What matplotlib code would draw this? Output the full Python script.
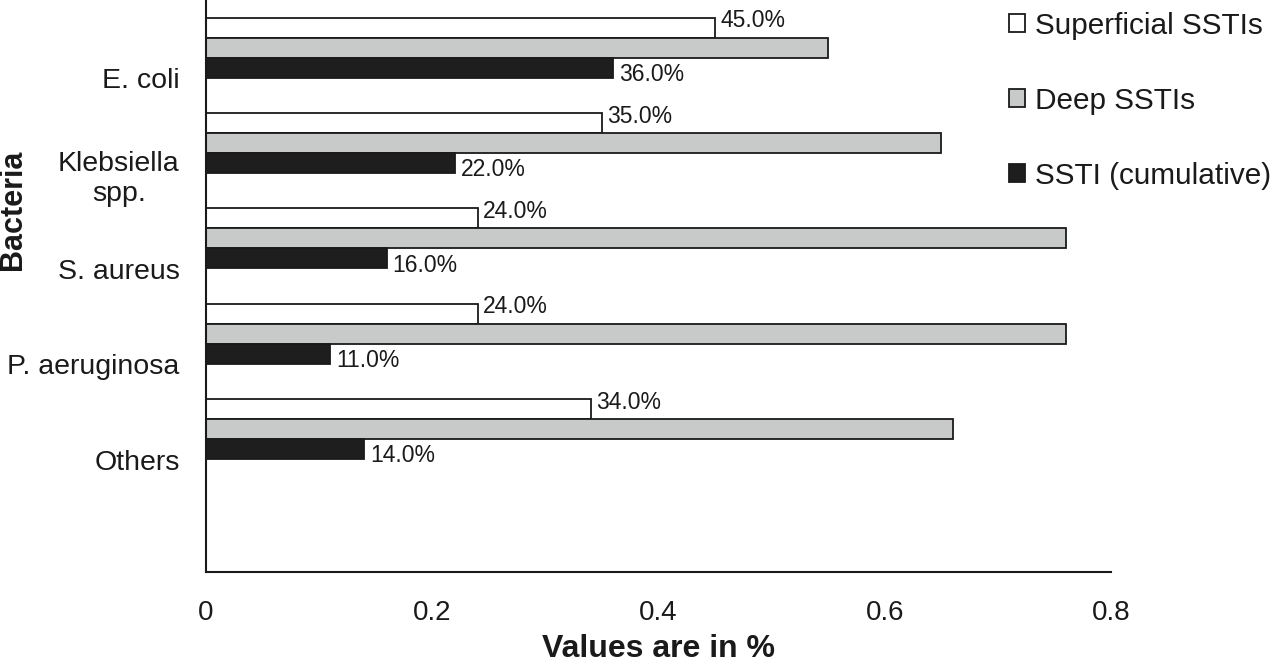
import matplotlib
matplotlib.use("Agg")
import matplotlib.pyplot as plt
import numpy as np

plt.rcParams['font.family'] = ['Liberation Sans', 'DejaVu Sans']

categories = ["E. coli", "Klebsiella\nspp.", "S. aureus", "P. aeruginosa", "Others"]
superficial = [0.45, 0.35, 0.24, 0.24, 0.34]
deep = [0.55, 0.65, 0.76, 0.76, 0.66]
cumulative = [0.36, 0.22, 0.16, 0.11, 0.14]
series_names = ["Superficial SSTIs", "Deep SSTIs", "SSTI (cumulative)"]
xticks = [0, 0.2, 0.4, 0.6, 0.8]
xtick_labels = ["0", "0.2", "0.4", "0.6", "0.8"]

fig = plt.figure(figsize=(12.8, 6.64), dpi=100)
ax = fig.add_axes([206/1280, 1-572/664, (1111-206)/1280, 572/664])

centers = np.arange(len(categories)) + 0.5
h = 0.21
b1 = ax.barh(centers - h, superficial, height=h, color="white", edgecolor="#1a1a1a", linewidth=1.3, label=series_names[0])
b2 = ax.barh(centers, deep, height=h, color="#c8c9c9", edgecolor="#1a1a1a", linewidth=1.3, label=series_names[1])
b3 = ax.barh(centers + h, cumulative, height=h, color="#1e1e1e", edgecolor="#1a1a1a", linewidth=1.3, label=series_names[2])

for c, v in zip(centers - h, superficial):
    ax.annotate(f"{v*100:.1f}%", (v, c), xytext=(4, 5), textcoords="offset points",
                va="center", ha="left", fontsize=16.5, color="#1a1a1a")
for c, v in zip(centers + h, cumulative):
    ax.annotate(f"{v*100:.1f}%", (v, c), xytext=(4, -5), textcoords="offset points",
                va="center", ha="left", fontsize=16.5, color="#1a1a1a")

ax.set_ylim(6, 0)
ax.set_xlim(0, 0.8)
ax.set_yticks(centers + 0.32)
ax.set_yticklabels(categories, fontsize=20.5, color="#1a1a1a")
for lbl in ax.get_yticklabels():
    lbl.set_multialignment("center")
ax.set_xticks(xticks)
ax.set_xticklabels(xtick_labels, fontsize=20, color="#1a1a1a")
ax.tick_params(axis="both", length=0)
ax.tick_params(axis="x", pad=20)
ax.tick_params(axis="y", pad=19)

for s in ["top", "right"]:
    ax.spines[s].set_visible(False)
for s in ["left", "bottom"]:
    ax.spines[s].set_linewidth(1.5)
    ax.spines[s].set_color("#1a1a1a")

ax.set_xlabel("Values are in %", fontsize=23, fontweight="bold", color="#1a1a1a")
ax.xaxis.set_label_coords(0.5, -0.108)
ax.set_ylabel("Bacteria", fontsize=22, fontweight="bold", color="#1a1a1a")
ax.yaxis.set_label_coords(-0.197, 0.633)

leg = fig.legend(handles=[b1, b2, b3], labels=series_names, loc="upper right",
                 bbox_to_anchor=(1283/1280, 1.0), frameon=False, fontsize=21.4,
                 handlelength=0.55, handleheight=0.55, handletextpad=0.33,
                 labelspacing=1.58, borderaxespad=0.0)
for t in leg.get_texts():
    t.set_color("#1a1a1a")

fig.savefig("out.png", dpi=100, facecolor="white")
